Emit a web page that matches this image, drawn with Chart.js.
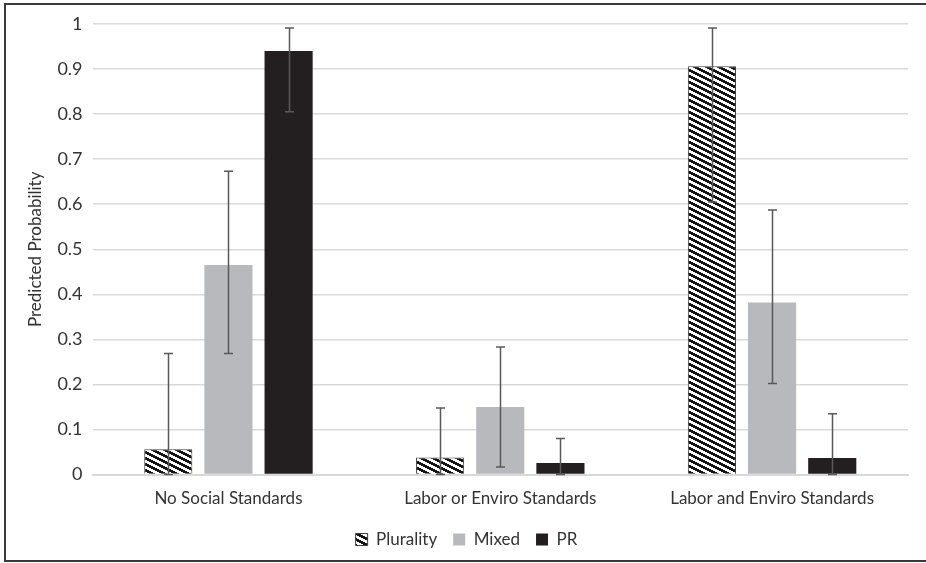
<!DOCTYPE html>
<html>
<head>
<meta charset="utf-8">
<script src="https://cdn.jsdelivr.net/npm/chart.js@4.4.0/dist/chart.umd.min.js"></script>
<style>
  html, body { margin: 0; padding: 0; background: #fff; }
  #wrap { position: relative; width: 926px; height: 563px; }
</style>
</head>
<body>
<div id="wrap"><canvas id="c" width="926" height="563"></canvas></div>
<script>
// Categories and series
const categories = ['No Social Standards', 'Labor or Enviro Standards', 'Labor and Enviro Standards'];
const seriesNames = ['Plurality', 'Mixed', 'PR'];

const plurality = [0.056, 0.038, 0.906];
const mixed     = [0.465, 0.150, 0.382];
const pr        = [0.940, 0.026, 0.037];

// Confidence interval bounds
const pluralityLow  = [0.000, 0.000, 0.605];
const pluralityHigh = [0.269, 0.148, 0.991];
const mixedLow      = [0.269, 0.017, 0.202];
const mixedHigh     = [0.673, 0.283, 0.587];
const prLow         = [0.805, 0.000, 0.000];
const prHigh        = [0.991, 0.080, 0.135];

const yTicks = [0, 0.1, 0.2, 0.3, 0.4, 0.5, 0.6, 0.7, 0.8, 0.9, 1];

// Diagonal black/white hatch fill
function makeHatch() {
  const w = 12, h = 6;
  const cv = document.createElement('canvas');
  cv.width = w; cv.height = h;
  const cx = cv.getContext('2d');
  const img = cx.createImageData(w, h);
  for (let y = 0; y < h; y++) {
    for (let x = 0; x < w; x++) {
      const t = ((y - x * 0.5) % 6 + 6) % 6;
      const v = t < 3 ? 20 : 255;
      const i = (y * w + x) * 4;
      img.data[i] = v; img.data[i + 1] = v; img.data[i + 2] = v; img.data[i + 3] = 255;
    }
  }
  cx.putImageData(img, 0, 0);
  return cx.createPattern(cv, 'repeat');
}
const hatch = makeHatch();

const errorBars = {
  id: 'errorBars',
  afterDatasetsDraw(chart) {
    const ctx = chart.ctx;
    const yScale = chart.scales.y;
    ctx.save();
    ctx.strokeStyle = '#595959';
    ctx.lineWidth = 1.5;
    chart.data.datasets.forEach((ds, di) => {
      const meta = chart.getDatasetMeta(di);
      meta.data.forEach((bar, i) => {
        const x = Math.round(bar.x) + 0.5;
        const yLo = yScale.getPixelForValue(ds.low[i]);
        const yHi = yScale.getPixelForValue(ds.high[i]);
        ctx.beginPath();
        ctx.moveTo(x, yLo); ctx.lineTo(x, yHi);
        ctx.moveTo(x - 4.5, yHi); ctx.lineTo(x + 4.5, yHi);
        ctx.moveTo(x - 4.5, yLo); ctx.lineTo(x + 4.5, yLo);
        ctx.stroke();
      });
    });
    ctx.restore();
  }
};

const frame = {
  id: 'frame',
  beforeDraw(chart) {
    const ctx = chart.ctx;
    ctx.save();
    ctx.fillStyle = '#fff';
    ctx.fillRect(0, 0, chart.width, chart.height);
    ctx.strokeStyle = '#3a3a3a';
    ctx.lineWidth = 2;
    ctx.strokeRect(5, 4, 940, 557);
    ctx.restore();
  }
};

const FONT = 'Lato, "Open Sans", sans-serif';

new Chart(document.getElementById('c'), {
  type: 'bar',
  data: {
    labels: categories,
    datasets: [
      { label: seriesNames[0], data: plurality, low: pluralityLow, high: pluralityHigh,
        backgroundColor: hatch, borderColor: '#404040', borderWidth: 1 },
      { label: seriesNames[1], data: mixed, low: mixedLow, high: mixedHigh,
        backgroundColor: '#b8b9bd', borderWidth: 0 },
      { label: seriesNames[2], data: pr, low: prLow, high: prHigh,
        backgroundColor: '#231f20', borderWidth: 0 }
    ]
  },
  options: {
    responsive: false,
    animation: false,
    layout: { padding: { left: 25, right: 18, top: 24, bottom: 5 } },
    datasets: { bar: { barPercentage: 0.8, categoryPercentage: 0.664 } },
    scales: {
      x: {
        grid: { display: false },
        border: { color: '#d9d9d9', width: 2 },
        ticks: { color: '#333', font: { family: FONT, size: 17 }, padding: 6 }
      },
      y: {
        min: 0, max: 1,
        afterBuildTicks(scale) { scale.ticks = yTicks.map(v => ({ value: v })); },
        grid: { color: '#d9d9d9', lineWidth: 1.5, drawTicks: false },
        border: { display: false },
        title: { display: true, text: 'Predicted Probability', color: '#333',
                 font: { family: FONT, size: 17 }, padding: { top: 0, bottom: 2 } },
        ticks: { color: '#333', font: { family: FONT, size: 18 }, padding: 10,
                 callback: v => String(Math.round(v * 10) / 10) }
      }
    },
    plugins: {
      legend: {
        position: 'bottom',
        labels: { color: '#333', font: { family: FONT, size: 17 }, boxWidth: 12, boxHeight: 12,
                  padding: 16 }
      },
      tooltip: { enabled: false }
    }
  },
  plugins: [frame, errorBars]
});
</script>
</body>
</html>
